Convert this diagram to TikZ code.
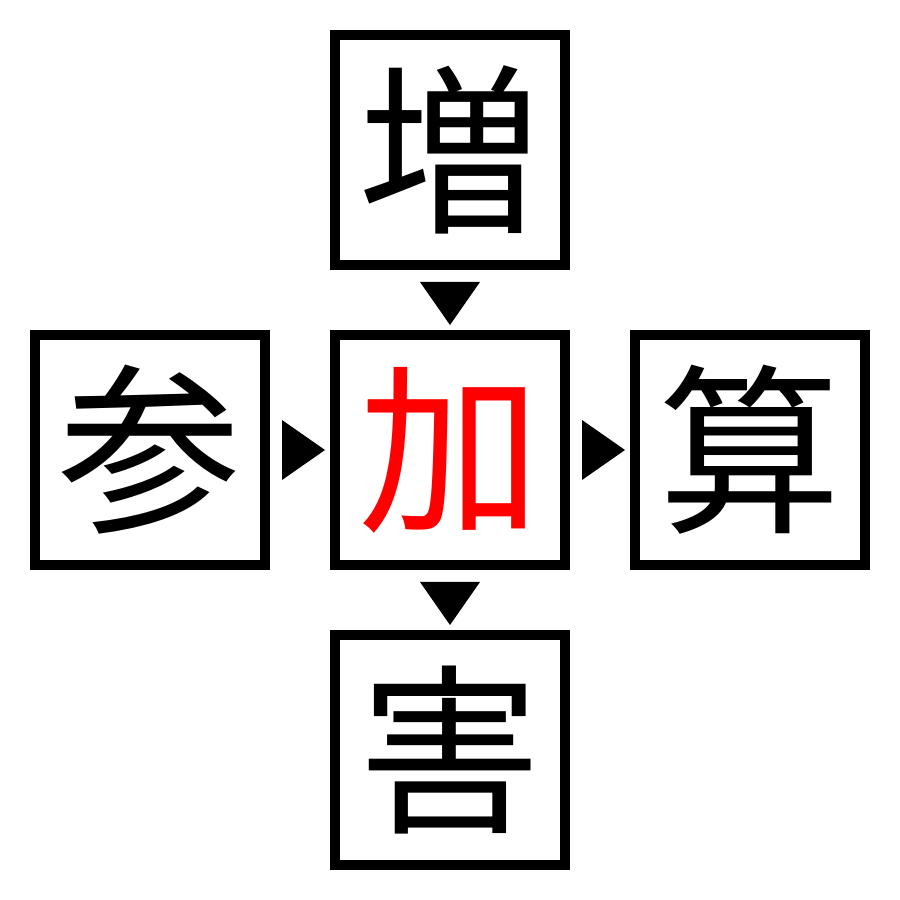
\documentclass[tikz,border=0pt]{standalone}
\usepackage{fontspec}
\newfontfamily\jpfont{Noto Sans CJK JP}
\usetikzlibrary{calc, positioning}
\tikzset{
    kanjiBox/.style={draw, line width=1mm, minimum size=23mm, inner sep=0pt, font=\jpfont\fontsize{52}{52}\selectfont},
    kanjiMid/.style={kanjiBox, text=red},
}
\newcommand{\markDown}[1]{
    \fill ($(#1.south)+(-0.3,-0.12)$) -- ++(0.6,0) -- ($(#1.south)+(0,-0.55)$) -- cycle;
}
\newcommand{\markRight}[1]{
    \fill ($(#1.east)+(0.12,0.3)$) -- ++(0,-0.6) -- ($(#1.east)+(0.55,0)$) -- cycle;
}

\begin{document}
\begin{tikzpicture}
        \useasboundingbox (0,0) rectangle (9,9);

        \node[kanjiMid] (ka) at (4.5,4.5) {加};
        \node[kanjiBox] (zou) at (4.5,7.5) {増};
        \node[kanjiBox] (gai) at (4.5,1.5) {害};
        \node[kanjiBox] (san) at (1.5,4.5) {参};
        \node[kanjiBox] (sanb) at (7.5,4.5) {算};

        \markDown{zou}
        \markDown{ka}
        \markRight{san}
        \markRight{ka}

    \end{tikzpicture}
\end{document}
